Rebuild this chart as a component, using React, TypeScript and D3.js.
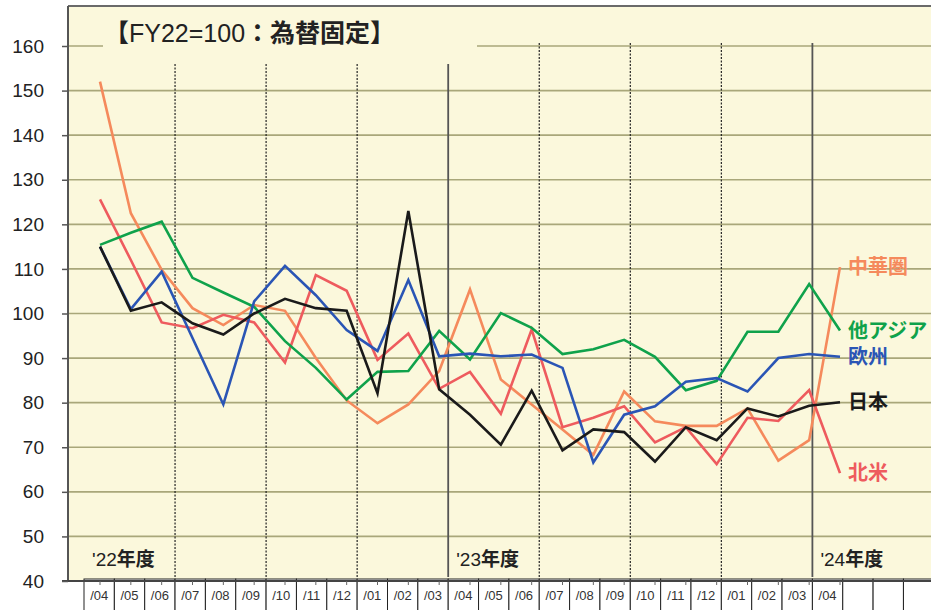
import React, { useEffect, useRef } from 'react';
import * as d3 from 'd3';

// month labels for the table under the chart (3 empty cells at the end)
const months = ['/04', '/05', '/06', '/07', '/08', '/09', '/10', '/11', '/12', '/01', '/02', '/03',
  '/04', '/05', '/06', '/07', '/08', '/09', '/10', '/11', '/12', '/01', '/02', '/03', '/04', '', '', ''];

const yTicks = [40, 50, 60, 70, 80, 90, 100, 110, 120, 130, 140, 150, 160];

const fiscalYears = ["'22", "'23", "'24"];
const fiscalStart = [0, 12, 24];

// FY22 = 100, constant currency
const china = [152.0, 122.5, 109.8, 101.2, 97.4, 101.9, 100.6, 90.0, 80.5, 75.4, 79.6, 87.1,
  105.4, 85.2, 79.6, 74.0, 68.3, 82.5, 75.8, 74.8, 74.8, 78.7, 67.0, 71.6, 110.4];
const northAmerica = [125.6, 112.0, 98.0, 96.7, 99.7, 98.0, 89.0, 108.6, 105.1, 89.6, 95.5, 83.1,
  86.9, 77.5, 96.4, 74.5, 76.6, 79.2, 71.1, 74.5, 66.2, 76.6, 75.9, 82.8, 64.2];
const otherAsia = [115.4, 118.1, 120.6, 108.0, 104.7, 101.5, 93.8, 87.8, 80.7, 86.9, 87.1, 96.1,
  89.7, 100.1, 96.8, 90.9, 92.0, 94.1, 90.3, 82.8, 84.9, 95.9, 95.9, 106.6, 96.2];
const europe = [115.0, 101.0, 109.4, 94.5, 79.6, 102.7, 110.7, 104.1, 96.3, 91.6, 107.5, 90.4,
  91.0, 90.4, 90.8, 87.8, 66.6, 77.3, 79.2, 84.7, 85.5, 82.5, 90.0, 90.9, 90.3];
const japan = [115.0, 100.6, 102.5, 97.8, 95.3, 100.0, 103.3, 101.2, 100.6, 82.1, 123.0, 83.0,
  77.3, 70.6, 82.7, 69.3, 74.0, 73.4, 66.8, 74.5, 71.6, 78.7, 76.9, 79.3, 80.1];

const series = [
  { name: '中華圏', values: china, color: '#F58A5C' },
  { name: '北米', values: northAmerica, color: '#EE5B5E' },
  { name: '他アジア', values: otherAsia, color: '#0FA24B' },
  { name: '欧州', values: europe, color: '#2A55B5' },
  { name: '日本', values: japan, color: '#1A1A1A' },
];

const W = 931;
const H = 610;
const FONT = "'Liberation Sans', Arial, 'Noto Sans CJK JP', sans-serif";
const BG = '#FBF8DC';
const GRID = '#A9A77A';

export default function App() {
  const axisRef = useRef<SVGGElement>(null);

  const y = d3.scaleLinear().domain([40, 160]).range([581, 46]);
  const x = d3.scaleLinear().domain([0, 24]).range([100, 840]);
  const cell = d3.scaleBand<number>().domain(d3.range(months.length)).range([84, 84 + months.length * 30.35]);

  useEffect(() => {
    const g = d3.select(axisRef.current);
    g.call(d3.axisLeft(y).tickValues(yTicks).tickSize(6).tickPadding(18).tickFormat(d3.format('d')) as any);
    g.select('.domain').remove();
    g.selectAll('.tick line').attr('stroke', '#555').attr('stroke-width', 1.5);
    g.selectAll('.tick text')
      .attr('font-size', 19)
      .attr('font-family', FONT)
      .attr('fill', '#222');
  }, []);

  const line = d3.line<number>().x((d, i) => x(i)).y(d => y(d));

  // quarter separators sit on table cell boundaries
  const quarterLines = d3.range(3, 25, 3);

  return (
    <svg width={W} height={H} style={{ position: 'absolute', left: 0, top: 0, background: '#fff' }}>
      <rect x={68} y={6} width={W - 68} height={581 - 6} fill={BG} />

      {yTicks.filter(t => t > 40).map(t => (
        <line key={t} x1={68} x2={W} y1={y(t)} y2={y(t)} stroke={GRID} strokeWidth={1.6} />
      ))}

      {quarterLines.map(q => {
        const solid = q % 12 === 0;
        const xx = cell(q) as number;
        return (
          <line key={q} x1={xx} x2={xx} y1={y(160) - 3} y2={577}
            stroke={solid ? '#555' : '#222'} strokeWidth={solid ? 1.8 : 1.2}
            strokeDasharray={solid ? undefined : '2,1.5'} />
        );
      })}

      {/* title box hides gridline and tops of separators */}
      <rect x={103} y={8} width={374} height={56} fill={BG} />
      <text x={104} y={42} fontFamily={FONT} fontSize={25} fill="#222">
        <tspan fontWeight="bold">【</tspan>
        <tspan>FY22=100</tspan>
        <tspan fontWeight="bold">：為替固定】</tspan>
      </text>

      {fiscalYears.map((fy, k) => (
        <text key={fy} x={(cell(fiscalStart[k]) as number) + 8} y={566} fontFamily={FONT} fontSize={19} fill="#222">
          <tspan>{fy}</tspan>
          <tspan fontWeight="bold">年度</tspan>
        </text>
      ))}

      {series.map(s => (
        <path key={s.name} d={line(s.values) || ''} fill="none" stroke={s.color}
          strokeWidth={2.6} strokeLinejoin="miter" />
      ))}

      {series.map(s => (
        <text key={s.name} x={x(24) + 8} y={y(s.values[24])} dy="0.36em" fontFamily={FONT}
          fontSize={20} fontWeight="bold" fill={s.color}>{s.name}</text>
      ))}

      {/* frame */}
      <line x1={68} x2={W} y1={6} y2={6} stroke="#6A6A6A" strokeWidth={2} />
      <line x1={68} x2={68} y1={6} y2={581} stroke="#555" strokeWidth={2} />

      {/* month table */}
      {months.map((m, j) => (
        <g key={j}>
          <rect x={cell(j)} y={579} width={cell.bandwidth()} height={H - 579 + 4} fill="#fff" stroke="#222" strokeWidth={1} />
          <text x={(cell(j) as number) + cell.bandwidth() / 2} y={600} textAnchor="middle"
            fontFamily={FONT} fontSize={13} fill="#333">{m}</text>
        </g>
      ))}
      <line x1={62} x2={W} y1={581} y2={581} stroke="#444" strokeWidth={2} />
      {d3.range(25).map(i => (
        <line key={i} x1={x(i)} x2={x(i)} y1={581} y2={585} stroke="#666" strokeWidth={1} />
      ))}

      <g ref={axisRef} transform="translate(68,0)" />
    </svg>
  );
}
